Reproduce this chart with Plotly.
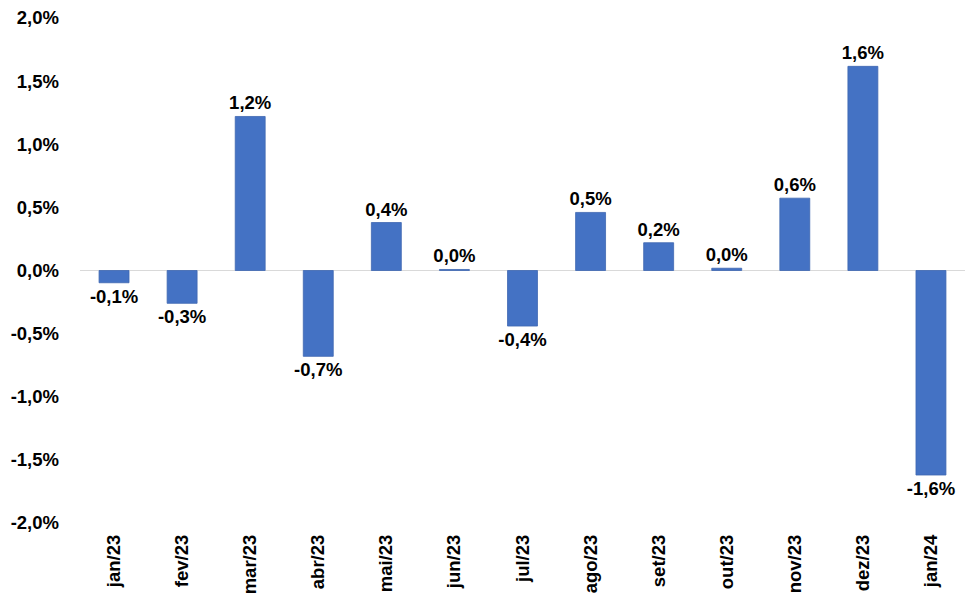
import plotly.graph_objects as go

categories = ["jan/23", "fev/23", "mar/23", "abr/23", "mai/23", "jun/23", "jul/23",
              "ago/23", "set/23", "out/23", "nov/23", "dez/23", "jan/24"]
values = [-0.097, -0.26, 1.22, -0.68, 0.38, 0.008, -0.44, 0.46, 0.22, 0.018, 0.573, 1.617, -1.62]
y_tickvals = [-2.0, -1.5, -1.0, -0.5, 0.0, 0.5, 1.0, 1.5, 2.0]
y_ticktext = ["-2,0%", "-1,5%", "-1,0%", "-0,5%", "0,0%", "0,5%", "1,0%", "1,5%", "2,0%"]

labels = [f"{v:.1f}%".replace(".", ",") for v in values]

FONT = "Liberation Sans, Arial, sans-serif"
FS = 18.5

fig = go.Figure(go.Bar(
    x=categories, y=values,
    text=labels, textposition="outside", constraintext="none",
    textfont=dict(family=FONT, size=FS, color="#000000", weight="bold"),
    marker=dict(color="#4472C4", line=dict(color="#3F67B1", width=0.8)),
    cliponaxis=False,
))

fig.update_layout(
    width=980, height=611,
    margin=dict(l=80, r=15, t=18, b=88),
    plot_bgcolor="white", paper_bgcolor="white",
    bargap=0.56,
    showlegend=False,
    font=dict(family=FONT, size=FS, color="#000000", weight="bold"),
)
fig.update_yaxes(
    range=[-2.0, 2.0], tickvals=y_tickvals, ticktext=y_ticktext,
    showgrid=False, zeroline=True, zerolinecolor="#D9D9D9", zerolinewidth=1.2,
    showline=False, ticks="", ticklabelstandoff=20, automargin=False,
    tickfont=dict(family=FONT, size=FS, color="#000000", weight="bold"),
)
fig.update_xaxes(
    tickangle=-90, showgrid=False, showline=False, ticks="",
    ticklabelstandoff=7, automargin=False,
    tickfont=dict(family=FONT, size=FS, color="#000000", weight="bold"),
)

fig.write_html("out.html", config={"displayModeBar": False},
               post_script="document.body.style.margin='0';")
